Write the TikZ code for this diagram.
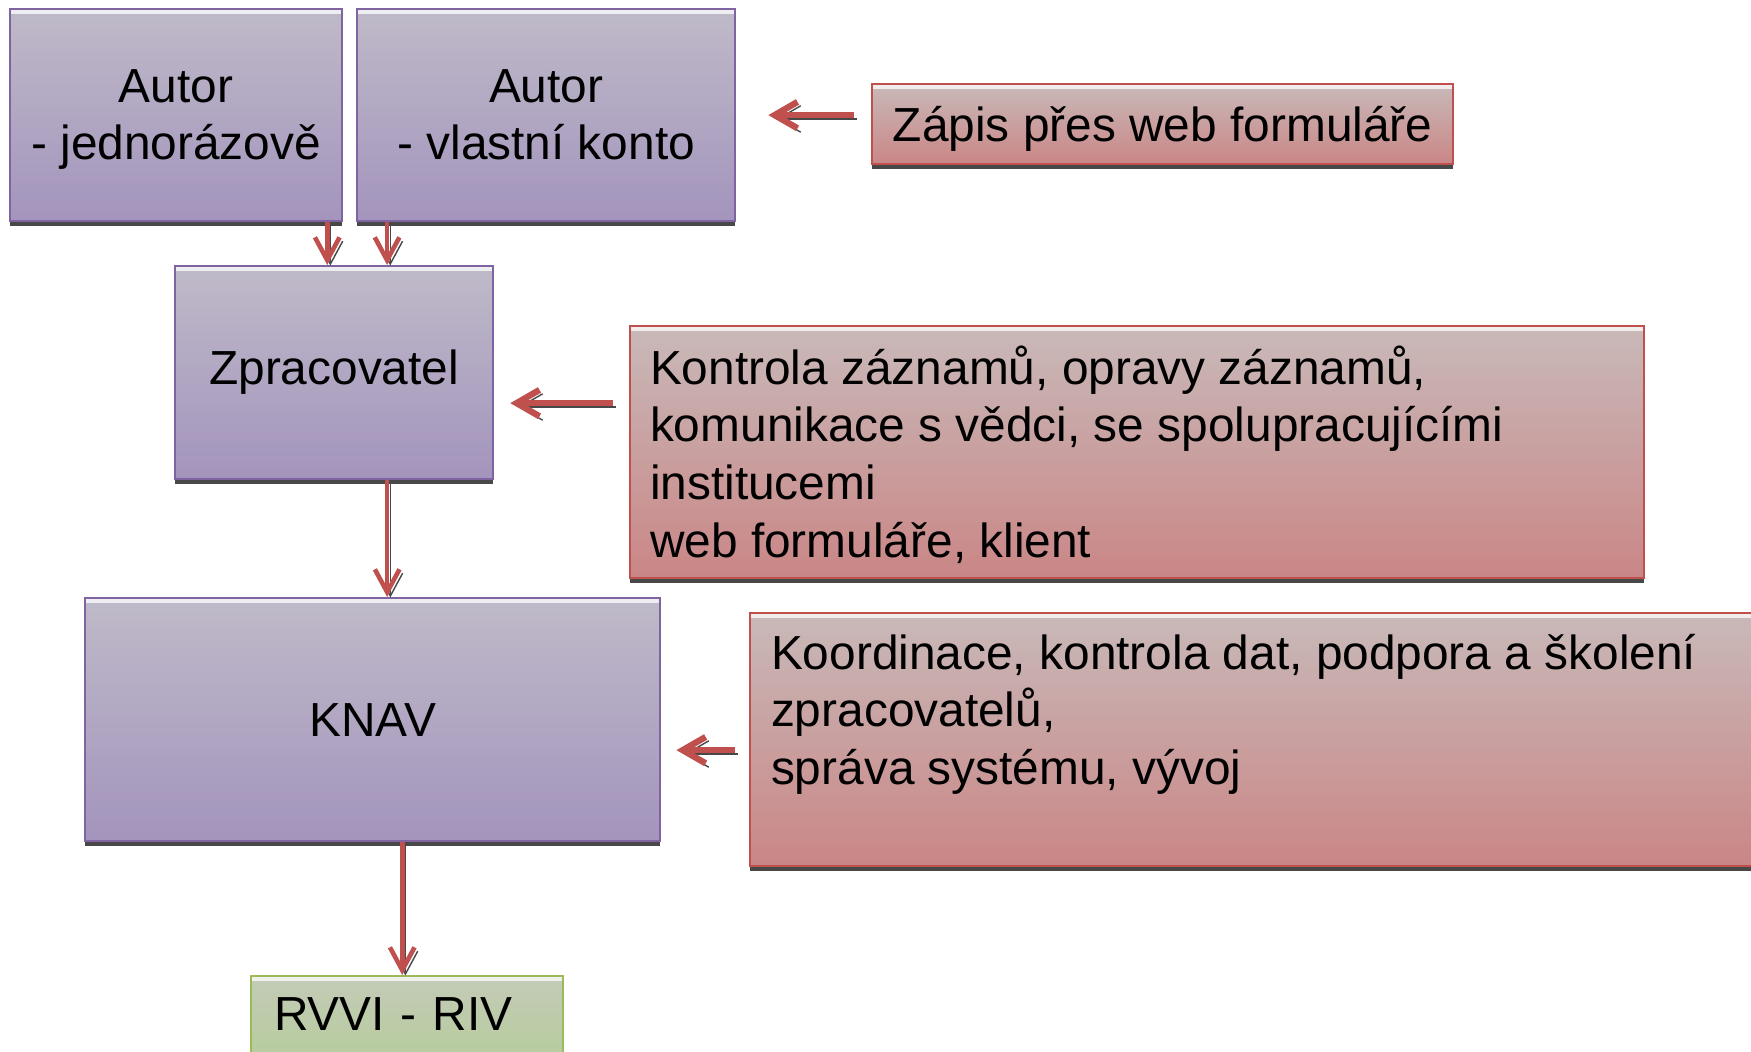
\documentclass[tikz,border=0pt]{standalone}
\usepackage{fontspec}
\setmainfont{Liberation Sans}
\usetikzlibrary{arrows.meta, shadows}
\definecolor{unitborder}{RGB}{128,100,162}
\definecolor{unittop}{RGB}{191,186,200}
\definecolor{unitbottom}{RGB}{163,148,189}
\definecolor{taskborder}{RGB}{192,80,77}
\definecolor{tasktop}{RGB}{201,185,185}
\definecolor{taskbottom}{RGB}{202,134,134}
\definecolor{outborder}{RGB}{155,187,89}
\definecolor{outtop}{RGB}{196,203,183}
\definecolor{outbottom}{RGB}{178,204,150}
\definecolor{arrowred}{RGB}{192,80,77}
\definecolor{shadowgray}{RGB}{72,72,72}
\tikzstyle{panel} = [rectangle, line width=0.6pt, anchor=north west, inner sep=0pt, font=\fontsize{13.6pt}{16.4pt}\selectfont, drop shadow={shadow xshift=0pt, shadow yshift=-1.3pt, opacity=1, fill=shadowgray}, path picture={\fill[white, opacity=0.75] ([yshift=-0.4pt]path picture bounding box.north west) rectangle ([yshift=-1.3pt]path picture bounding box.north east);}]
\tikzstyle{unit} = [panel, draw=unitborder, top color=unittop, bottom color=unitbottom, align=center]
\tikzstyle{task} = [panel, draw=taskborder, top color=tasktop, bottom color=taskbottom]
\tikzstyle{output} = [panel, draw=outborder, top color=outtop, bottom color=outbottom]
\tikzstyle{arrow} = [line width=1.3pt, draw=arrowred, -{Straight Barb[length=6.5pt, width=7pt]}, preaction={draw=shadowgray, transform canvas={xshift=0.9pt, yshift=-1.1pt}}]
\tikzstyle{sidearrow} = [arrow, line width=1.8pt, -{Straight Barb[length=6.5pt, width=7.5pt]}]

\begin{document}
\begin{tikzpicture}
[x=0.01cm, y=-0.01cm]
\useasboundingbox (0,0) rectangle (1751,1052);

\node (autor1) [unit, minimum width=3.32cm, minimum height=2.12cm] at (9,8) {\rule{0pt}{14pt}Autor\\- jednorázově\strut};
\node (autor2) [unit, minimum width=3.78cm, minimum height=2.12cm] at (356,8) {\rule{0pt}{14pt}Autor\\- vlastní konto\strut};
\node (zapis) [task, minimum width=5.81cm, text height=0.57cm, text depth=0.23cm] at (871,83) {Zápis přes web formuláře};
\node (zprac) [unit, minimum width=3.18cm, minimum height=2.13cm] at (174,265) {Zpracovatel};
\node (kontrola) [task, inner xsep=0.2cm] at (629,325) {\parbox[c][2.52cm][t]{9.73cm}{\raggedright\rule{0pt}{0.58cm}Kontrola záznamů, opravy záznamů,\\komunikace s vědci, se spolupracujícími\\institucemi\\web formuláře, klient}};
\node (knav) [unit, minimum width=5.75cm, minimum height=2.43cm] at (84,597) {KNAV};
\node (koord) [task, inner xsep=0.21cm] at (749,612) {\parbox[c][2.53cm][t]{9.59cm}{\raggedright\rule{0pt}{0.56cm}Koordinace, kontrola dat, podpora a školení\\zpracovatelů,\\správa systému, vývoj}};
\node (riv) [output, inner xsep=0.23cm, text width=2.66cm, text height=0.545cm, text depth=0.5cm, align=left] at (250,975) {RVVI - RIV};

\coordinate (zin) at ([yshift=-0.305cm]zprac.east);
\coordinate (kin) at ([yshift=-0.305cm]knav.east);

\draw [arrow] ([xshift=1.51cm]autor1.south) -- ([xshift=1.51cm]autor1.south |- zprac.north);
\draw [arrow] ([xshift=-1.59cm]autor2.south) -- ([xshift=-1.59cm]autor2.south |- zprac.north);
\draw [sidearrow, shorten <=0.17cm, shorten >=0.32cm] (zapis.west |- autor2.east) -- (autor2.east);
\draw [sidearrow, shorten <=0.16cm, shorten >=0.16cm] (kontrola.west |- zin) -- (zin);
\draw [arrow] ([xshift=0.53cm]zprac.south) -- ([xshift=0.53cm]zprac.south |- knav.north);
\draw [sidearrow, shorten <=0.14cm, shorten >=0.15cm] (koord.west |- kin) -- (kin);
\draw [arrow] ([xshift=0.295cm]knav.south) -- ([xshift=0.295cm]knav.south |- riv.north);

\end{tikzpicture}
\end{document}
